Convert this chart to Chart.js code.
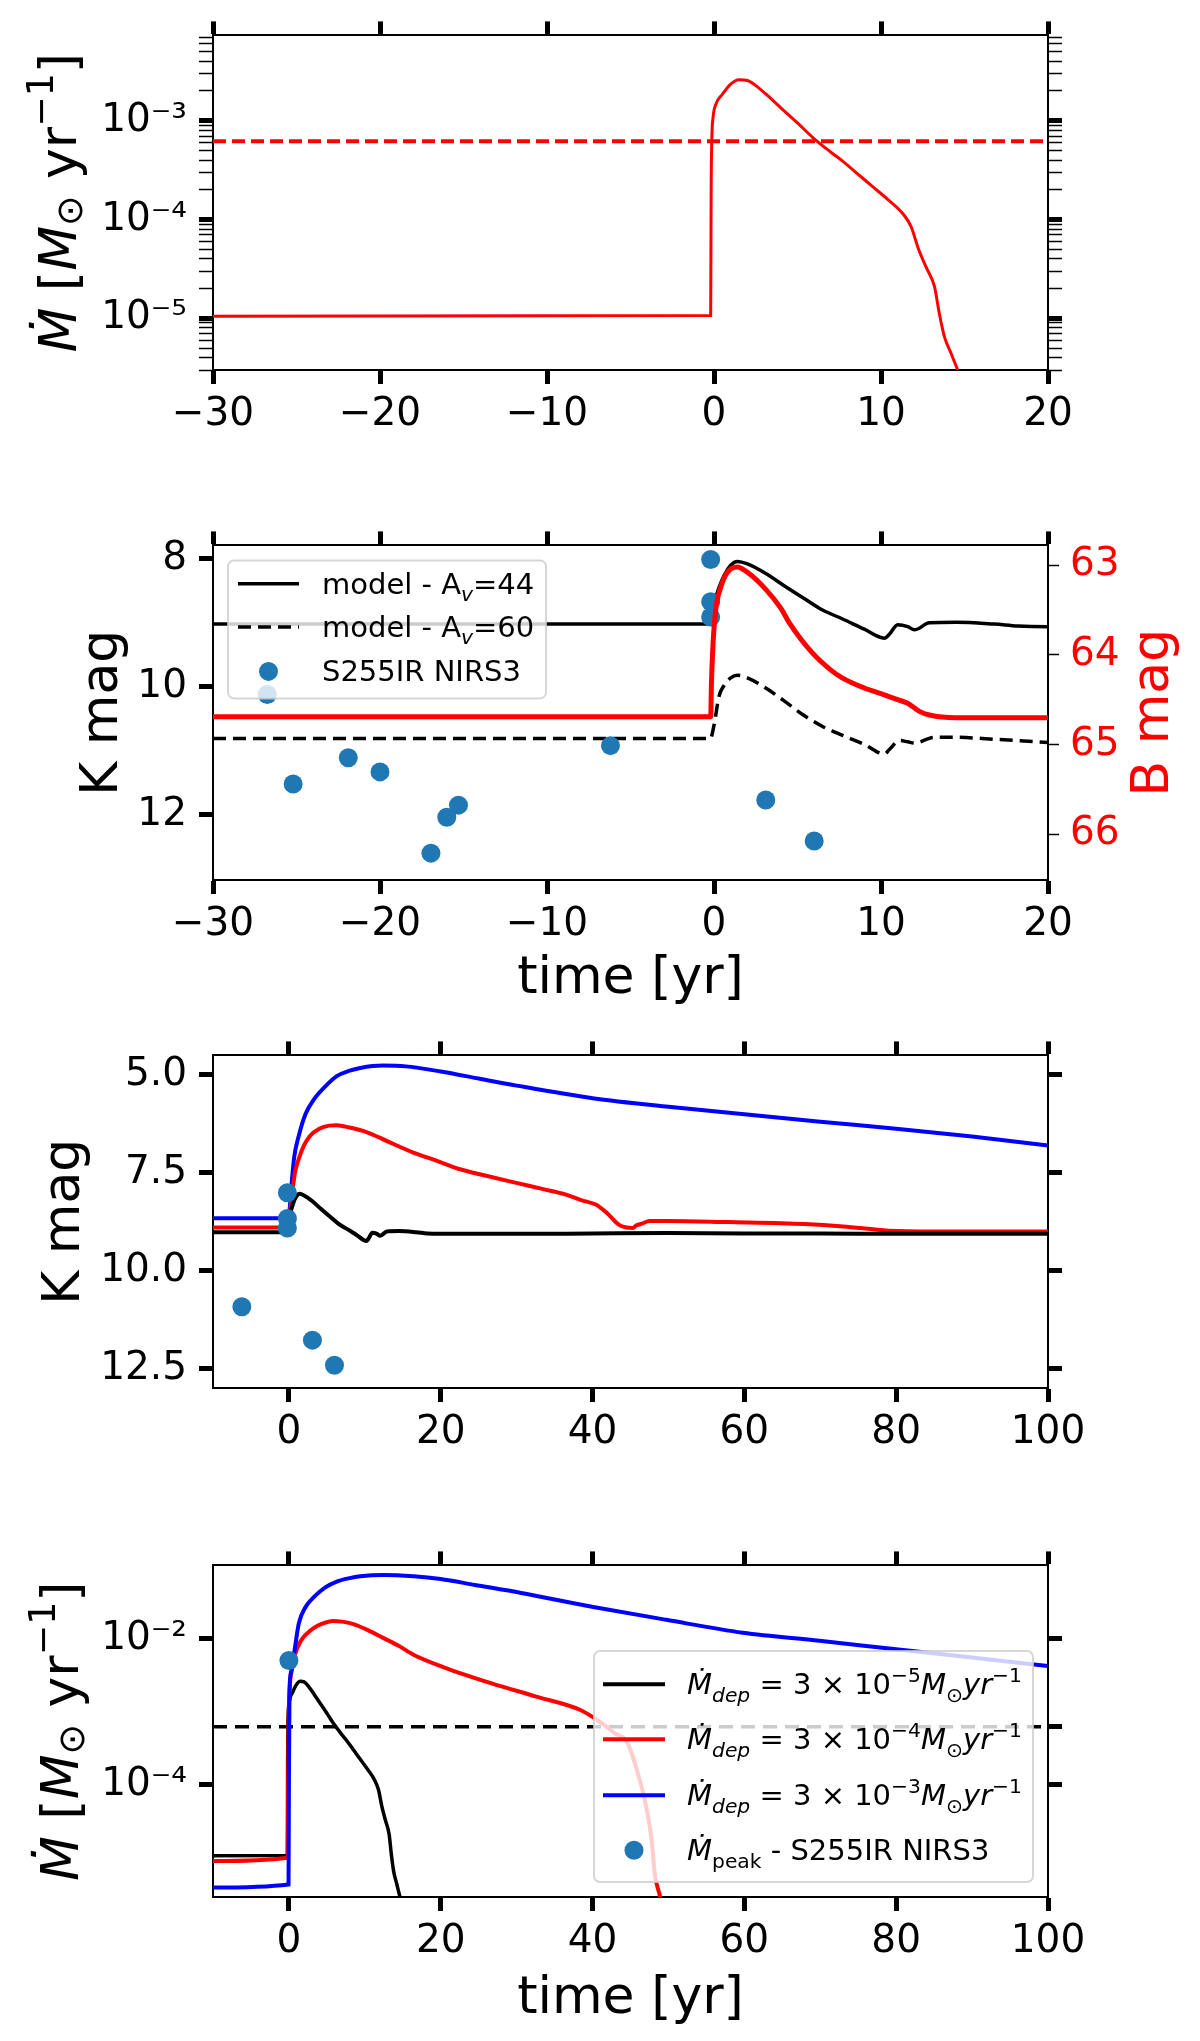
<!DOCTYPE html>
<html>
<head>
<meta charset="utf-8">
<title>S255IR NIRS3 burst models</title>
<script src="https://cdn.jsdelivr.net/npm/chart.js@4.4.1/dist/chart.umd.min.js"></script>
<style>
  html, body { margin: 0; padding: 0; background: #fff; }
  #figure { position: relative; width: 1200px; height: 2041px; background: #fff; }
  #figure canvas { position: absolute; left: 0; }
</style>
</head>
<body>
<div id="figure">
  <canvas id="panel1" width="1200" height="510" style="top:0"></canvas>
  <canvas id="panel2" width="1200" height="510" style="top:510px"></canvas>
  <canvas id="panel3" width="1200" height="510" style="top:1020px"></canvas>
  <canvas id="panel4" width="1200" height="511" style="top:1530px"></canvas>
</div>
<script>
// ---- data ----

// accretion rate, Mdep = 3e-5 Msun/yr (top panel, black curve of bottom panel)
const lowTime = [-30, -0.2, -0.17, -0.13, -0.05, 0.1, 0.5, 1.0, 1.5, 2.0, 2.6, 3.2, 4.0, 5.0, 5.9, 7.0, 7.7, 8.6, 9.5, 10.4, 11.3, 11.8, 12.25, 12.7, 13.2, 13.5, 13.8, 14.2, 14.6, 15.2];
const lowMdot = [1.05e-5, 1.07e-5, 2e-4, 6.5e-4, 1.1e-3, 1.45e-3, 1.85e-3, 2.35e-3, 2.6e-3, 2.55e-3, 2.2e-3, 1.8e-3, 1.35e-3, 9.5e-4, 6.8e-4, 4.8e-4, 3.9e-4, 2.9e-4, 2.15e-4, 1.6e-4, 1.15e-4, 8.5e-5, 5e-5, 3.3e-5, 2.1e-5, 1.1e-5, 6.5e-6, 4.4e-6, 3e-6, 1.8e-6];
const critMdot = 6.2e-4;

// accretion rate, Mdep = 3e-4
const midTime = [-10, -0.15, -0.1, -0.05, 0.1, 0.4, 0.8, 1.5, 2.3, 3.3, 4.3, 5.8, 7.0, 8.4, 10.4, 12.4, 14.4, 16.4, 20.5, 26.6, 32.6, 38.4, 41.0, 43.0, 44.5, 46.0, 47.1, 47.8, 48.2, 48.9, 49.5];
const midMdot = [9.0e-6, 1.0e-5, 1e-4, 6e-4, 2e-3, 3.8e-3, 6.0e-3, 9e-3, 1.15e-2, 1.4e-2, 1.58e-2, 1.74e-2, 1.7e-2, 1.58e-2, 1.3e-2, 1.02e-2, 8e-3, 6.0e-3, 4.0e-3, 2.45e-3, 1.6e-3, 1.05e-3, 7.2e-4, 5.0e-4, 3.9e-4, 1.4e-4, 4.8e-5, 1.7e-5, 6e-6, 2.9e-6, 1.3e-6];

// accretion rate, Mdep = 3e-3
const highTime = [-10, -0.05, 0.0, 0.08, 0.3, 0.8, 1.3, 2.2, 3.3, 4.8, 6.3, 8.0, 9.4, 12.4, 16.4, 20, 24.5, 30.6, 40.1, 49.7, 59.8, 69.9, 80, 90, 100];
const highMdot = [3.9e-6, 4.3e-6, 1e-4, 2.0e-3, 3.5e-3, 7.5e-3, 1.6e-2, 2.7e-2, 3.7e-2, 5.0e-2, 6.0e-2, 6.7e-2, 7.1e-2, 7.4e-2, 7.1e-2, 6.5e-2, 5.4e-2, 4.2e-2, 2.7e-2, 1.8e-2, 1.2e-2, 9.3e-3, 7.1e-3, 5.5e-3, 4.2e-3];

const peakTime = [0];
const peakMdot = [5.0e-3];

// K band, Mdep = 3e-5 with Av = 44 (also the black curve of panel 3)
const kTimeA44 = [-30, -0.22, 0.0, 0.3, 0.6, 1.0, 1.4, 2.0, 3.1, 4.2, 5.4, 6.5, 7.7, 9.0, 10.2, 10.5, 11.0, 11.6, 12.0, 12.9, 14.5, 16.8, 18.2, 20, 30, 40, 50, 60, 70, 80, 90, 100];
const kMagA44 = [9.02, 9.02, 8.7, 8.45, 8.26, 8.1, 8.04, 8.08, 8.23, 8.42, 8.62, 8.8, 8.94, 9.1, 9.24, 9.18, 9.03, 9.06, 9.11, 9.0, 8.99, 9.02, 9.05, 9.06, 9.06, 9.05, 9.04, 9.05, 9.05, 9.06, 9.06, 9.06];

// K band with Av = 60
const kTimeA60 = [-30, -0.22, 0.0, 0.3, 0.6, 1.0, 1.4, 2.0, 3.1, 4.2, 5.4, 6.5, 7.7, 9.0, 10.2, 10.5, 11.1, 11.6, 12.0, 13.2, 14.5, 16.8, 18.2, 20];
const kMagA60 = [10.81, 10.81, 10.6, 10.15, 9.98, 9.86, 9.82, 9.86, 10.02, 10.22, 10.45, 10.62, 10.76, 10.9, 11.05, 10.98, 10.84, 10.86, 10.88, 10.79, 10.79, 10.82, 10.84, 10.87];

// B band (right axis of panel 2)
const bTime = [-30, -0.2, -0.15, -0.05, 0.1, 0.4, 0.8, 1.4, 2.0, 3.1, 4.0, 4.5, 5.85, 7.0, 7.7, 9.0, 9.95, 11.0, 11.6, 12.3, 12.9, 14.5, 20];
const bMag = [64.69, 64.69, 64.3, 63.85, 63.5, 63.25, 63.08, 63.02, 63.08, 63.27, 63.48, 63.64, 63.97, 64.17, 64.26, 64.37, 64.43, 64.5, 64.54, 64.63, 64.67, 64.70, 64.70];

// K band, Mdep = 3e-4
const kTimeMid = [-10, -0.1, 0.3, 0.8, 1.3, 2.0, 2.8, 4.0, 5.3, 6.3, 8.0, 10.3, 13.0, 16.3, 19.5, 22.3, 26.0, 30.4, 33.5, 36.5, 38.5, 40.5, 42.0, 43.5, 44.5, 45.3, 45.8, 46.5, 47.5, 50, 57.8, 67.9, 73, 79, 85, 100];
const kMagMid = [8.9, 8.9, 8.24, 7.5, 7.15, 6.8, 6.56, 6.38, 6.30, 6.29, 6.35, 6.47, 6.7, 6.98, 7.2, 7.40, 7.58, 7.78, 7.92, 8.06, 8.2, 8.32, 8.55, 8.83, 8.9, 8.91, 8.84, 8.8, 8.73, 8.73, 8.76, 8.81, 8.87, 8.98, 9.0, 9.0];

// K band, Mdep = 3e-3
const kTimeHigh = [-10, -0.05, 0.3, 0.7, 1.3, 2.2, 3.3, 4.8, 6.3, 8.0, 9.4, 12.4, 15.4, 20, 25, 30, 40, 50, 60, 70, 80, 90, 100];
const kMagHigh = [8.66, 8.66, 7.9, 7.1, 6.56, 6.0, 5.63, 5.3, 5.04, 4.9, 4.83, 4.77, 4.79, 4.92, 5.1, 5.28, 5.6, 5.82, 6.01, 6.2, 6.38, 6.58, 6.81];

// S255IR NIRS3 photometry
const obsTime = [-26.75, -25.2, -21.9, -20.0, -16.95, -16.0, -15.3, -6.2, -0.2, -0.2, -0.2, 3.1, 6.0];
const obsK = [10.12, 11.52, 11.11, 11.33, 12.6, 12.04, 11.85, 10.92, 8.01, 8.67, 8.91, 11.77, 12.41];

// tick values
const shortTimeTicks = [-30, -20, -10, 0, 10, 20];
const longTimeTicks = [0, 20, 40, 60, 80, 100];
const kTicksShort = [8, 10, 12];
const bTicks = [63, 64, 65, 66];
const kTicksLong = [5, 7.5, 10, 12.5];
const mdotTicksBottom = [1e-4, 1e-2];
const mdotTicksBottomRight = [1e-4, critMdot, 1e-2];

// ---- styling / layout ----
const FONT = '"DejaVu Sans", "Liberation Sans", sans-serif';
const RED = '#ff0000', BLUE = '#0000ff', BLACK = '#000000', DOT = '#1f77b4';
const PLOT_LEFT = 213;
const PLOT_RIGHT = 1048;
const CANVAS_W = 1200;
const TICK_FONT = 39;
const TITLE_FONT = 52;

Chart.defaults.font.family = FONT;

function pts(xs, ys) {
    return xs.map((x, i) => ({ x: x, y: ys[i] }));
}

function minus(v) {
    return v < 0 ? '\u2212' + Math.abs(v) : String(v);
}

const SUP = { '-': '\u207B', '0': '\u2070', '1': '\u00B9', '2': '\u00B2', '3': '\u00B3', '4': '\u2074', '5': '\u2075', '6': '\u2076', '7': '\u2077', '8': '\u2078', '9': '\u2079' };

function isPow10(v) {
    const l = Math.log10(v);
    return Math.abs(l - Math.round(l)) < 1e-6;
}

function pow10Label(v) {
    if (!isPow10(v)) return '';
    const e = Math.round(Math.log10(v));
    return '10' + String(e).split('').map(c => SUP[c]).join('');
}

// 1..9 x 10^n inside [min, max], like matplotlib's log locator
function logTicks(min, max) {
    const out = [];
    for (let e = Math.floor(Math.log10(min)); e <= Math.ceil(Math.log10(max)); e++) {
        for (let k = 1; k <= 9; k++) {
            const v = k * Math.pow(10, e);
            if (v >= min && v <= max) out.push(v);
        }
    }
    return out;
}

const spine = { display: true, color: BLACK, width: 2 };

function xAxis(position, min, max, tickValues, size, labels) {
    return {
        type: 'linear', position: position, min: min, max: max,
        afterBuildTicks: s => { s.ticks = tickValues.map(v => ({ value: v })); },
        afterFit: s => { s.height = size; },
        grid: { drawOnChartArea: false, drawTicks: true, tickLength: 14, tickWidth: 5, tickColor: BLACK },
        border: spine,
        ticks: {
            display: labels, autoSkip: false, maxRotation: 0, padding: 7, color: BLACK,
            font: { family: FONT, size: TICK_FONT }, callback: v => minus(v)
        }
    };
}

function yAxis(position, o) {
    return {
        type: o.type || 'linear', position: position, min: o.min, max: o.max, reverse: !!o.reverse,
        afterBuildTicks: s => { s.ticks = o.ticks.map(v => ({ value: v })); },
        afterFit: s => { s.width = position === 'left' ? PLOT_LEFT : CANVAS_W - PLOT_RIGHT; },
        grid: {
            drawOnChartArea: false, drawTicks: true, tickColor: BLACK,
            tickLength: o.tickLength || 14, tickWidth: o.tickWidth || 5
        },
        border: spine,
        ticks: {
            display: o.labels !== false, autoSkip: false, padding: o.padding || 12,
            color: o.color || BLACK, font: { family: FONT, size: TICK_FONT },
            callback: o.format || (v => String(v))
        }
    };
}

function curve(xs, ys, color, extra) {
    return Object.assign({
        data: pts(xs, ys), borderColor: color, borderWidth: 4, pointRadius: 0,
        fill: false, cubicInterpolationMode: 'monotone'
    }, extra || {});
}

function dots(xs, ys, extra) {
    return Object.assign({
        data: pts(xs, ys), showLine: false, pointRadius: 9.5, pointHoverRadius: 9.5,
        pointBackgroundColor: DOT, pointBorderWidth: 0, borderColor: DOT
    }, extra || {});
}

// ---- text helpers (mathtext-like labels) ----
function partsWidth(ctx, parts, size) {
    let w = 0;
    parts.forEach(p => {
        ctx.font = (p.italic ? 'italic ' : '') + (size * (p.scale || 1)) + 'px ' + FONT;
        w += ctx.measureText(p.t).width;
    });
    return w;
}

function drawParts(ctx, x, y, parts, size, color) {
    let cx = x;
    parts.forEach(p => {
        ctx.font = (p.italic ? 'italic ' : '') + (size * (p.scale || 1)) + 'px ' + FONT;
        ctx.fillStyle = color;
        ctx.fillText(p.t, cx, y + (p.dy || 0) * size);
        cx += ctx.measureText(p.t).width;
    });
}

function drawVertical(ctx, baselineX, centerY, parts, size, color) {
    ctx.save();
    ctx.textBaseline = 'alphabetic';
    ctx.textAlign = 'left';
    const w = partsWidth(ctx, parts, size);
    ctx.translate(baselineX, centerY);
    ctx.rotate(-Math.PI / 2);
    drawParts(ctx, -w / 2, 0, parts, size, color);
    ctx.restore();
}

function drawCentered(ctx, centerX, baselineY, parts, size, color) {
    ctx.save();
    ctx.textBaseline = 'alphabetic';
    ctx.textAlign = 'left';
    const w = partsWidth(ctx, parts, size);
    drawParts(ctx, centerX - w / 2, baselineY, parts, size, color);
    ctx.restore();
}

function legendFrame(ctx, x, y, w, h) {
    ctx.save();
    ctx.beginPath();
    if (ctx.roundRect) ctx.roundRect(x, y, w, h, 6); else ctx.rect(x, y, w, h);
    ctx.fillStyle = 'rgba(255,255,255,0.8)';
    ctx.fill();
    ctx.lineWidth = 2;
    ctx.strokeStyle = 'rgba(204,204,204,0.8)';
    ctx.stroke();
    ctx.restore();
}

function legendLine(ctx, x1, x2, y, color, width, dash) {
    ctx.save();
    ctx.beginPath();
    ctx.setLineDash(dash || []);
    ctx.strokeStyle = color;
    ctx.lineWidth = width;
    ctx.moveTo(x1, y);
    ctx.lineTo(x2, y);
    ctx.stroke();
    ctx.restore();
}

function legendDot(ctx, x, y) {
    ctx.save();
    ctx.beginPath();
    ctx.arc(x, y, 9.5, 0, Math.PI * 2);
    ctx.fillStyle = DOT;
    ctx.fill();
    ctx.restore();
}

const MDOT_TITLE = [
    { t: '\u1E40', italic: true },
    { t: ' [' },
    { t: 'M', italic: true },
    { t: '\u2299', scale: 0.7, dy: 0.12 },
    { t: ' yr' },
    { t: '\u22121', scale: 0.7, dy: -0.45 },
    { t: ']' }
];

function depLabel(exp) {
    return [
        { t: '\u1E40', italic: true },
        { t: 'dep', italic: true, scale: 0.7, dy: 0.25 },
        { t: ' = 3 \u00D7 10' },
        { t: '\u2212' + exp, scale: 0.7, dy: -0.42 },
        { t: 'M', italic: true },
        { t: '\u2299', scale: 0.7, dy: 0.25 },
        { t: 'yr', italic: true },
        { t: '\u22121', scale: 0.7, dy: -0.42 }
    ];
}

function makePanel(id, scales, datasets, decorate) {
    return new Chart(document.getElementById(id), {
        type: 'line',
        data: { datasets: datasets },
        options: {
            responsive: false,
            animation: false,
            events: [],
            layout: { padding: 0 },
            plugins: { legend: { display: false }, tooltip: { enabled: false } },
            scales: scales
        },
        plugins: [{
            id: id + 'Decor',
            afterDraw: chart => decorate(chart.ctx, chart.chartArea)
        }]
    });
}

const logWidth = c => (c.tick && isPow10(c.tick.value)) ? 5 : 1.5;

// ---- panel 1: accretion rate, short window ----
const p1Min = 3.0e-6, p1Max = 7.3e-3;
const p1Ticks = logTicks(p1Min, p1Max);
makePanel('panel1', {
    x: xAxis('bottom', -30, 20, shortTimeTicks, 510 - 370, true),
    xTop: xAxis('top', -30, 20, shortTimeTicks, 34, false),
    y: yAxis('left', { type: 'logarithmic', min: p1Min, max: p1Max, ticks: p1Ticks, tickWidth: logWidth, format: pow10Label }),
    yR: yAxis('right', { type: 'logarithmic', min: p1Min, max: p1Max, ticks: p1Ticks, tickWidth: logWidth, labels: false })
}, [
    curve(lowTime, lowMdot, RED, { borderWidth: 3 }),
    curve([-30, 20], [critMdot, critMdot], RED, { borderWidth: 4, borderDash: [13, 6], cubicInterpolationMode: 'default' })
], (ctx, area) => {
    drawVertical(ctx, 76, (area.top + area.bottom) / 2, MDOT_TITLE, TITLE_FONT, BLACK);
});

// ---- panel 2: K and B light curves ----
makePanel('panel2', {
    x: xAxis('bottom', -30, 20, shortTimeTicks, 510 - 370, true),
    xTop: xAxis('top', -30, 20, shortTimeTicks, 33, false),
    y: yAxis('left', { min: 7.79, max: 13.02, reverse: true, ticks: kTicksShort }),
    yB: yAxis('right', { min: 62.78, max: 66.51, reverse: true, ticks: bTicks, color: RED, tickWidth: 1.5, tickLength: 11, padding: 11 })
}, [
    curve(bTime, bMag, RED, { yAxisID: 'yB', borderWidth: 5 }),
    dots(obsTime, obsK),
    curve(kTimeA44, kMagA44, BLACK, { borderWidth: 3.5 }),
    curve(kTimeA60, kMagA60, BLACK, { borderWidth: 3.5, borderDash: [13, 7] })
], (ctx, area) => {
    drawVertical(ctx, 117, (area.top + area.bottom) / 2, [{ t: 'K mag' }], TITLE_FONT, BLACK);
    drawVertical(ctx, 1168, (area.top + area.bottom) / 2, [{ t: 'B mag' }], TITLE_FONT, RED);
    drawCentered(ctx, (area.left + area.right) / 2, area.bottom + 113, [{ t: 'time [yr]' }], TITLE_FONT, BLACK);

    const lx = area.left + 15, ly = area.top + 15;
    legendFrame(ctx, lx, ly, 318, 138);
    const rows = [ly + 23.4, ly + 66.7, ly + 111];
    legendLine(ctx, lx + 10, lx + 71, rows[0], BLACK, 3.5);
    legendLine(ctx, lx + 10, lx + 71, rows[1], BLACK, 3.5, [13, 7]);
    legendDot(ctx, lx + 40.5, rows[2]);
    const t = lx + 94;
    drawParts(ctx, t, rows[0] + 10, [{ t: 'model - A' }, { t: 'v', italic: true, scale: 0.7, dy: 0.25 }, { t: '=44' }], 29, BLACK);
    drawParts(ctx, t, rows[1] + 10, [{ t: 'model - A' }, { t: 'v', italic: true, scale: 0.7, dy: 0.25 }, { t: '=60' }], 29, BLACK);
    drawParts(ctx, t, rows[2] + 10, [{ t: 'S255IR NIRS3' }], 29, BLACK);
});

// ---- panel 3: K band for the three models ----
makePanel('panel3', {
    x: xAxis('bottom', -10, 100, longTimeTicks, 510 - 368, true),
    xTop: xAxis('top', -10, 100, longTimeTicks, 32, false),
    y: yAxis('left', { min: 4.51, max: 12.99, reverse: true, ticks: kTicksLong, format: v => v.toFixed(1) }),
    yR: yAxis('right', { min: 4.51, max: 12.99, reverse: true, ticks: kTicksLong, labels: false })
}, [
    dots(obsTime, obsK),
    curve(kTimeA44, kMagA44, BLACK),
    curve(kTimeMid, kMagMid, RED),
    curve(kTimeHigh, kMagHigh, BLUE)
], (ctx, area) => {
    drawVertical(ctx, 79, (area.top + area.bottom) / 2, [{ t: 'K mag' }], TITLE_FONT, BLACK);
});

// ---- panel 4: accretion rate for the three models ----
const p4Min = 2.9e-6, p4Max = 0.1;
makePanel('panel4', {
    x: xAxis('bottom', -10, 100, longTimeTicks, 511 - 367, true),
    xTop: xAxis('top', -10, 100, longTimeTicks, 32, false),
    y: yAxis('left', { type: 'logarithmic', min: p4Min, max: p4Max, ticks: mdotTicksBottom, format: pow10Label }),
    yR: yAxis('right', { type: 'logarithmic', min: p4Min, max: p4Max, ticks: mdotTicksBottomRight, labels: false })
}, [
    dots(peakTime, peakMdot),
    curve(highTime, highMdot, BLUE),
    curve(midTime, midMdot, RED),
    curve(lowTime, lowMdot, BLACK, { borderWidth: 3.5 }),
    curve([-10, 100], [critMdot, critMdot], BLACK, { borderWidth: 3.5, borderDash: [14, 8], cubicInterpolationMode: 'default' })
], (ctx, area) => {
    drawVertical(ctx, 78, (area.top + area.bottom) / 2, MDOT_TITLE, TITLE_FONT, BLACK);
    drawCentered(ctx, (area.left + area.right) / 2, area.bottom + 116, [{ t: 'time [yr]' }], TITLE_FONT, BLACK);

    const lw = 439, lh = 231;
    const lx = area.right - 15 - lw, ly = area.bottom - 15 - lh;
    legendFrame(ctx, lx, ly, lw, lh);
    const rows = [ly + 33.3, ly + 88.3, ly + 144.3, ly + 199.3];
    legendLine(ctx, lx + 9, lx + 71, rows[0], BLACK, 4);
    legendLine(ctx, lx + 9, lx + 71, rows[1], RED, 4);
    legendLine(ctx, lx + 9, lx + 71, rows[2], BLUE, 4);
    legendDot(ctx, lx + 40, rows[3]);
    const t = lx + 93;
    drawParts(ctx, t, rows[0] + 10, depLabel('5'), 29, BLACK);
    drawParts(ctx, t, rows[1] + 10, depLabel('4'), 29, BLACK);
    drawParts(ctx, t, rows[2] + 10, depLabel('3'), 29, BLACK);
    drawParts(ctx, t, rows[3] + 10, [{ t: '\u1E40', italic: true }, { t: 'peak', scale: 0.7, dy: 0.25 }, { t: ' - S255IR NIRS3' }], 29, BLACK);
});
</script>
</body>
</html>
